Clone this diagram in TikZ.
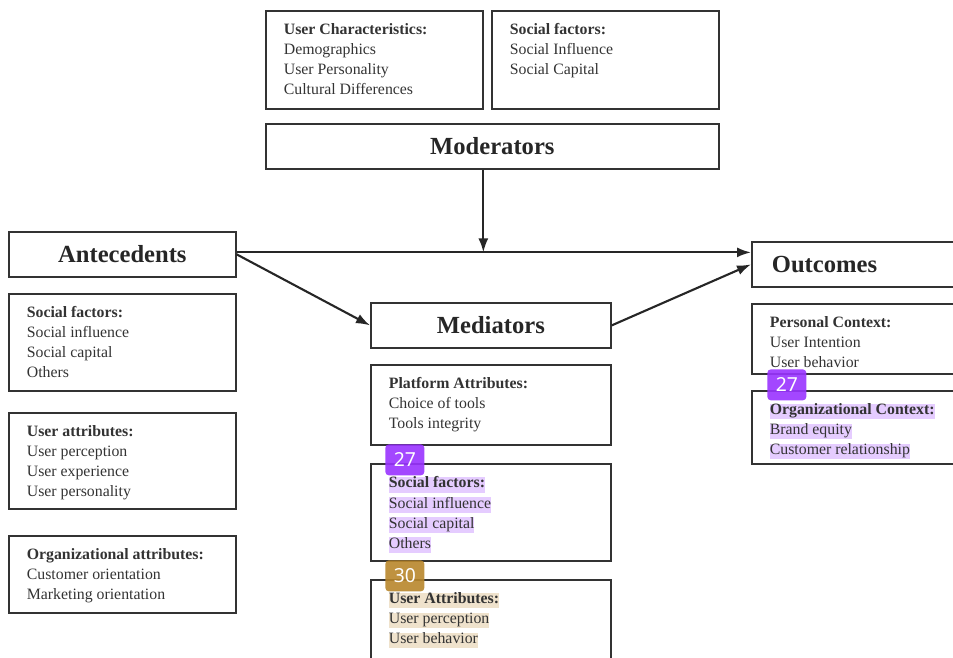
\documentclass[tikz,border=0pt]{standalone}
\usepackage{fontspec}
\setmainfont{Liberation Serif}
\newfontfamily\badgefont{Noto Sans}
\usetikzlibrary{arrows.meta, positioning}

\definecolor{hlpurple}{HTML}{E5CCFF}
\definecolor{hltan}{HTML}{EFE2CC}
\definecolor{tagpurple}{HTML}{9933FF}
\definecolor{tagbrown}{HTML}{B8862B}

% highlighted line of text
\newcommand{\hlp}[1]{{\setlength{\fboxsep}{0pt}\colorbox{hlpurple}{\rule[-2.6pt]{0pt}{8.4pt}#1}}}
\newcommand{\hlt}[1]{{\setlength{\fboxsep}{0pt}\colorbox{hltan}{\rule[-2.6pt]{0pt}{8.4pt}#1}}}

\begin{document}
\begin{tikzpicture}[x=0.02cm, y=-0.02cm,
                frame/.style={draw=black!80, line width=1pt, anchor=north west, inner sep=0pt},
                headbox/.style={frame, minimum height=0.9cm, text=black!85, font=\fontsize{14}{16}\selectfont\bfseries},
                items/.style={anchor=north west, align=left, inner sep=0pt, text=black!80, font=\fontsize{9}{11.4}\selectfont, xshift=0.37cm, yshift=-0.26cm},
                hlitems/.style={items, yshift=-0.01cm},
                tag/.style={anchor=north west, rounded corners=2pt, fill=#1, fill opacity=0.9, text opacity=1, text=white, inner sep=0pt, minimum width=0.78cm, minimum height=0.62cm, font=\badgefont\fontsize{11}{11}\selectfont},
                arrow/.style={-{Latex[length=0.28cm, width=0.2cm]}, line width=1.2pt, black!85}
            ]
                \clip (0,0) rectangle (953,657);

                % Moderators
                \node (userChar) [frame, minimum width=4.34cm, minimum height=1.96cm] at (265,10) {};
                \node (userCharText) [items] at (userChar.north west) {\textbf{User Characteristics:}\\Demographics\\User Personality\\Cultural Differences};
                \node (socTop) [frame, minimum width=4.54cm, minimum height=1.96cm] at (491,10) {};
                \node (socTopText) [items] at (socTop.north west) {\textbf{Social factors:}\\Social Influence\\Social Capital};
                \node (moder) [headbox, minimum width=9.06cm] at (265,123) {Moderators};

                % Antecedents
                \node (antec) [headbox, minimum width=4.54cm] at (8,231) {Antecedents};
                \node (antSoc) [frame, minimum width=4.54cm, minimum height=1.94cm] at (8,293) {};
                \node (antSocText) [items] at (antSoc.north west) {\textbf{Social factors:}\\Social influence\\Social capital\\Others};
                \node (antUser) [frame, minimum width=4.54cm, minimum height=1.92cm] at (8,412) {};
                \node (antUserText) [items] at (antUser.north west) {\textbf{User attributes:}\\User perception\\User experience\\User personality};
                \node (antOrg) [frame, minimum width=4.54cm, minimum height=1.54cm] at (8,535) {};
                \node (antOrgText) [items] at (antOrg.north west) {\textbf{Organizational attributes:}\\Customer orientation\\Marketing orientation};

                % Mediators
                \node (medi) [headbox, minimum width=4.8cm] at (370,302) {Mediators};
                \node (medPlat) [frame, minimum width=4.8cm, minimum height=1.6cm] at (370,364) {};
                \node (medPlatText) [items] at (medPlat.north west) {\textbf{Platform Attributes:}\\Choice of tools\\Tools integrity};
                \node (medSoc) [frame, minimum width=4.8cm, minimum height=1.94cm] at (370,463) {};
                \node (medSocText) [hlitems] at (medSoc.north west) {\hlp{\textbf{Social factors:}}\\\hlp{Social influence}\\\hlp{Social capital}\\\hlp{Others}};
                \node (medUser) [frame, minimum width=4.8cm, minimum height=1.7cm] at (370,579) {};
                \node (medUserText) [hlitems] at (medUser.north west) {\hlt{\textbf{User Attributes:}}\\\hlt{User perception}\\\hlt{User behavior}};

                % Outcomes
                \node (outc) [headbox, minimum width=4.8cm, text width=4.0cm, align=left, inner xsep=0.4cm] at (751,241) {Outcomes};
                \node (outPers) [frame, minimum width=4.8cm, minimum height=1.4cm] at (751,303) {};
                \node (outPersText) [items] at (outPers.north west) {\textbf{Personal Context:}\\User Intention\\User behavior};
                \node (outOrg) [frame, minimum width=4.8cm, minimum height=1.46cm] at (751,390) {};
                \node (outOrgText) [hlitems] at (outOrg.north west) {\hlp{\textbf{Organizational Context:}}\\\hlp{Brand equity}\\\hlp{Customer relationship}};

                % Tags
                \node (tagMedSoc) [tag=tagpurple] at (385,444) {27};
                \node (tagMedUser) [tag=tagbrown] at (385,560) {30};
                \node (tagOutOrg) [tag=tagpurple] at (767,369) {27};

                % Arrows
                \coordinate (modFoot) at ([xshift=-0.18cm]moder.south);
                \draw [arrow] ([yshift=0.04cm]antec.east) -- ([yshift=0.04cm]antec.east -| outc.west);
                \draw [arrow] (modFoot) -- ([yshift=0.04cm]modFoot |- antec.east);
                \draw [arrow] (antec.east) -- (medi.west);
                \draw [arrow] (medi.east) -- (outc.west);
            \end{tikzpicture}
\end{document}
